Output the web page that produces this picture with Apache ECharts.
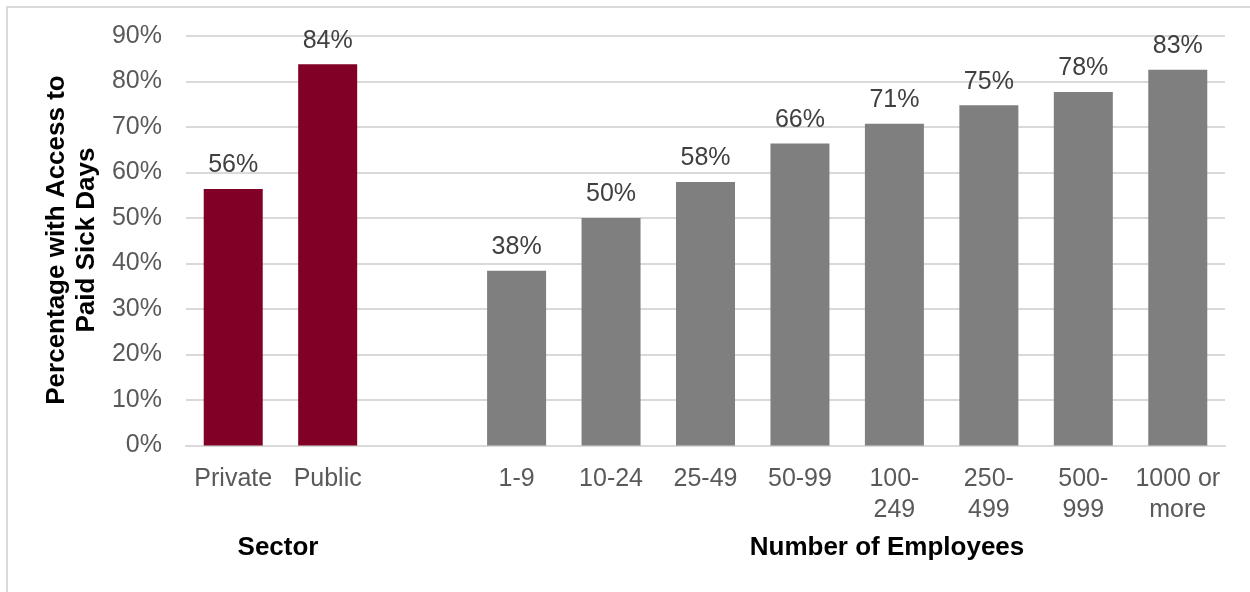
<!DOCTYPE html>
<html>
<head>
<meta charset="utf-8">
<script src="https://cdn.jsdelivr.net/npm/echarts@6/dist/echarts.min.js"></script>
<style>
html,body{margin:0;padding:0;background:#fff;}
#chart{width:1250px;height:592px;}
</style>
</head>
<body>
<div id="chart"></div>
<script>
var categories = ['Private', 'Public', '', '1-9', '10-24', '25-49', '50-99', '100-\n249', '250-\n499', '500-\n999', '1000 or\nmore'];
var sectorValues = [56.4, 83.8, '-', '-', '-', '-', '-', '-', '-', '-', '-'];
var employeeValues = ['-', '-', '-', 38.4, 50.0, 57.9, 66.4, 70.7, 74.8, 77.7, 82.6];
var yTicks = [0, 10, 20, 30, 40, 50, 60, 70, 80, 90];
var yAxisTitle = 'Percentage with Access to\nPaid Sick Days';
var groupTitles = ['Sector', 'Number of Employees'];

var FONT = '"Liberation Sans", Arial, sans-serif';
var chart = echarts.init(document.getElementById('chart'));

var labelCfg = {
  show: true,
  position: 'top',
  distance: 11,
  fontFamily: FONT,
  fontSize: 25,
  color: '#404040',
  formatter: function (p) { return Math.round(p.value) + '%'; }
};

chart.setOption({
  animation: false,
  backgroundColor: '#ffffff',
  grid: { left: 186, right: 25, top: 36, bottom: 146.5, containLabel: false },
  xAxis: {
    type: 'category',
    data: categories,
    axisLine: { show: true, lineStyle: { color: '#d9d9d9', width: 2 } },
    axisTick: { show: false },
    axisLabel: {
      interval: 0,
      margin: 18,
      fontFamily: FONT,
      fontSize: 25,
      lineHeight: 31,
      color: '#595959'
    }
  },
  yAxis: {
    type: 'value',
    min: yTicks[0],
    max: yTicks[yTicks.length - 1],
    interval: 10,
    axisLine: { show: false },
    axisTick: { show: false },
    splitLine: { lineStyle: { color: '#d9d9d9', width: 2 } },
    axisLabel: {
      margin: 24,
      fontFamily: FONT,
      fontSize: 25,
      color: '#595959',
      formatter: '{value}%'
    }
  },
  series: [
    {
      name: 'Sector',
      type: 'bar',
      data: sectorValues,
      barWidth: 59,
      barGap: '-100%',
      itemStyle: { color: '#800026' },
      label: labelCfg
    },
    {
      name: 'Number of Employees',
      type: 'bar',
      data: employeeValues,
      barWidth: 59,
      barGap: '-100%',
      itemStyle: { color: '#7f7f7f' },
      label: labelCfg
    }
  ],
  graphic: [
    {
      type: 'rect',
      shape: { x: 7, y: 7, width: 1400, height: 800 },
      style: { fill: 'none', stroke: '#d9d9d9', lineWidth: 2 },
      silent: true
    },
    {
      type: 'text',
      x: 72, y: 240,
      rotation: Math.PI / 2,
      style: {
        text: yAxisTitle,
        fontFamily: FONT,
        fontSize: 26,
        fontWeight: 'bold',
        lineHeight: 30,
        fill: '#000000',
        textAlign: 'center',
        textVerticalAlign: 'middle'
      }
    },
    {
      type: 'text',
      x: 278, y: 548,
      style: {
        text: groupTitles[0],
        fontFamily: FONT, fontSize: 26, fontWeight: 'bold', fill: '#000000',
        textAlign: 'center', textVerticalAlign: 'middle'
      }
    },
    {
      type: 'text',
      x: 887, y: 548,
      style: {
        text: groupTitles[1],
        fontFamily: FONT, fontSize: 26, fontWeight: 'bold', fill: '#000000',
        textAlign: 'center', textVerticalAlign: 'middle'
      }
    }
  ]
});
</script>
</body>
</html>
